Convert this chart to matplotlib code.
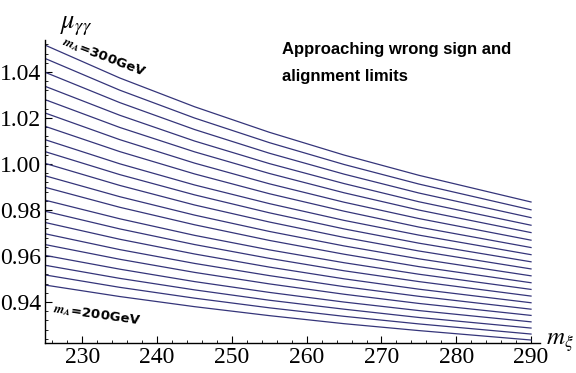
import matplotlib.pyplot as plt
from matplotlib.ticker import MultipleLocator

plt.rcParams['mathtext.fontset'] = 'stix'

# m_xi sample points (GeV)
m_xi = [225, 235, 245, 255, 265, 275, 290]

# mu_gamma_gamma curves, m_A = 300 GeV (top) down to 200 GeV (bottom), step 5 GeV
m_A = list(range(300, 195, -5))
mu = [
    [1.0517, 1.0374, 1.0249, 1.0138, 1.0039, 0.9951, 0.9835],
    [1.0459, 1.0321, 1.0200, 1.0093, 0.9998, 0.9913, 0.9801],
    [1.0399, 1.0267, 1.0150, 1.0047, 0.9956, 0.9874, 0.9767],
    [1.0338, 1.0212, 1.0100, 1.0002, 0.9915, 0.9836, 0.9734],
    [1.0280, 1.0159, 1.0053, 0.9959, 0.9875, 0.9800, 0.9702],
    [1.0222, 1.0106, 1.0004, 0.9914, 0.9834, 0.9763, 0.9669],
    [1.0164, 1.0054, 0.9957, 0.9871, 0.9795, 0.9726, 0.9637],
    [1.0106, 1.0001, 0.9909, 0.9828, 0.9755, 0.9691, 0.9606],
    [1.0054, 0.9954, 0.9866, 0.9788, 0.9718, 0.9656, 0.9575],
    [1.0003, 0.9907, 0.9822, 0.9748, 0.9681, 0.9622, 0.9544],
    [0.9949, 0.9858, 0.9778, 0.9707, 0.9644, 0.9588, 0.9514],
    [0.9899, 0.9812, 0.9736, 0.9668, 0.9608, 0.9554, 0.9484],
    [0.9843, 0.9762, 0.9690, 0.9627, 0.9571, 0.9521, 0.9455],
    [0.9795, 0.9718, 0.9650, 0.9590, 0.9536, 0.9489, 0.9426],
    [0.9746, 0.9673, 0.9609, 0.9552, 0.9501, 0.9456, 0.9397],
    [0.9697, 0.9628, 0.9568, 0.9515, 0.9467, 0.9425, 0.9369],
    [0.9650, 0.9586, 0.9529, 0.9479, 0.9434, 0.9394, 0.9342],
    [0.9603, 0.9543, 0.9489, 0.9442, 0.9400, 0.9363, 0.9314],
    [0.9560, 0.9503, 0.9453, 0.9408, 0.9369, 0.9333, 0.9287],
    [0.9518, 0.9464, 0.9417, 0.9375, 0.9338, 0.9305, 0.9261],
    [0.9474, 0.9424, 0.9380, 0.9341, 0.9306, 0.9276, 0.9235],
]

x_ticks = [230, 240, 250, 260, 270, 280, 290]
y_ticks = [0.94, 0.96, 0.98, 1.00, 1.02, 1.04]

fig = plt.figure(figsize=(5.76, 3.73), dpi=100)
ax = fig.add_axes([0.0781, 0.0804, 0.8594, 0.8123])

for row in mu:
    ax.plot(m_xi, row, color='#35357a', lw=0.9)

ax.set_xlim(225, 291.2)
ax.set_ylim(0.9222, 1.0539)

# Mathematica-like axes: only left and bottom
ax.spines['top'].set_visible(False)
ax.spines['right'].set_visible(False)
for s in ['left', 'bottom']:
    ax.spines[s].set_linewidth(1.0)

ax.set_xticks(x_ticks)
ax.set_yticks(y_ticks)
ax.set_yticklabels(['%.2f' % v for v in y_ticks])
ax.xaxis.set_minor_locator(MultipleLocator(2))
ax.yaxis.set_minor_locator(MultipleLocator(0.004))
ax.tick_params(which='major', direction='in', length=5, width=0.8,
               labelsize=17, pad=3)
ax.tick_params(which='minor', direction='in', length=2.5, width=0.6)
for lab in ax.get_xticklabels() + ax.get_yticklabels():
    lab.set_fontfamily('Liberation Serif')

fig.text(0.105, 0.925, r'$\mu_{\gamma\gamma}$', fontsize=19,
         ha='left', va='baseline')
fig.text(0.948, 0.075, r'$m_{\xi}$', fontsize=18,
         ha='left', va='baseline')

fig.text(0.49, 0.855, 'Approaching wrong sign and', fontsize=12,
         fontweight='bold', family='Liberation Sans', ha='left', va='baseline')
fig.text(0.49, 0.782, 'alignment limits', fontsize=12,
         fontweight='bold', family='Liberation Sans', ha='left', va='baseline')

ax.text(227.0, 1.0505, r'$\mathbfit{m_A}$=300GeV', fontsize=9.5, fontweight='bold',
        family='DejaVu Sans', rotation=-21, ha='left', va='bottom',
        rotation_mode='anchor')
ax.text(226.2, 0.9405, r'$\mathbfit{m_A}$=200GeV', fontsize=9.5, fontweight='bold',
        family='DejaVu Sans', rotation=-8, ha='left', va='top',
        rotation_mode='anchor')

plt.savefig('out.png', dpi=100)
